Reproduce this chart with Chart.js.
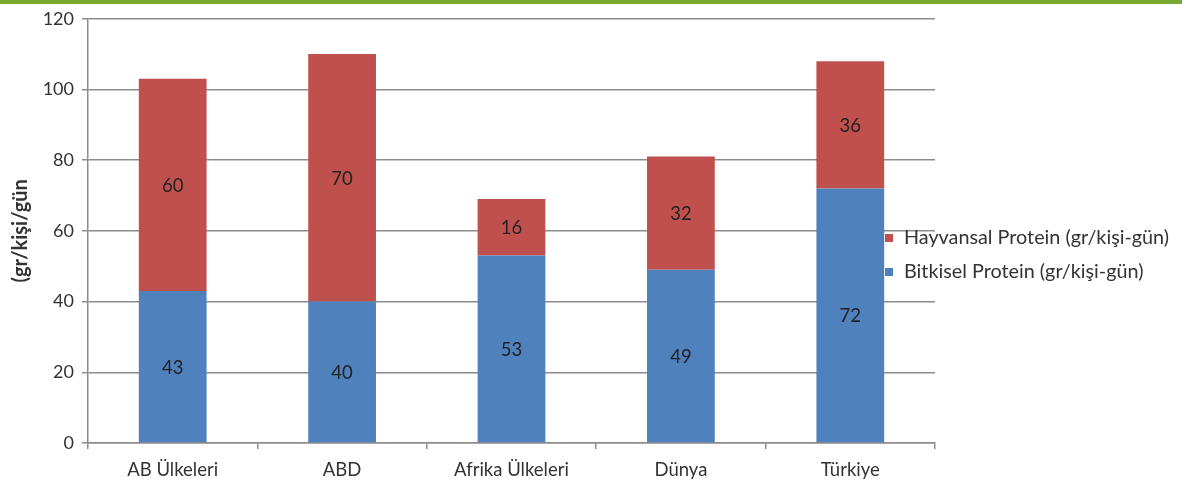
<html>
<head>
<meta charset="utf-8"/>
<title>Protein</title>
<script src="https://cdn.jsdelivr.net/npm/chart.js"></script>
<style>
  body { margin: 0; background: #fff; }
  #topbar { height: 4px; background: #76a832; }
  #wrap { position: relative; width: 1182px; height: 480px; }
</style>
</head>
<body>
<div id="topbar"></div>
<div id="wrap"><canvas id="proteinChart"></canvas></div>
<script>
// data
const categories = ['AB Ülkeleri', 'ABD', 'Afrika Ülkeleri', 'Dünya', 'Türkiye'];
const bitkisel = [43, 40, 53, 49, 72];
const hayvansal = [60, 70, 16, 32, 36];
const yTicks = [0, 20, 40, 60, 80, 100, 120];
const seriesNames = ['Bitkisel Protein (gr/kişi-gün)', 'Hayvansal Protein (gr/kişi-gün)'];
const yTitle = '(gr/kişi/gün';

const textColor = '#333333';
const fontFamily = 'Lato, "Open Sans", sans-serif';

// values written in the middle of each bar piece
const valueLabels = {
  id: 'valueLabels',
  afterDatasetsDraw(chart) {
    const ctx = chart.ctx;
    ctx.save();
    ctx.font = '18.5px ' + fontFamily;
    ctx.fillStyle = '#222';
    ctx.textAlign = 'center';
    ctx.textBaseline = 'middle';
    chart.data.datasets.forEach((ds, i) => {
      chart.getDatasetMeta(i).data.forEach((bar, j) => {
        const p = bar.getProps(['x', 'y', 'base'], true);
        ctx.fillText(ds.data[j], p.x, (p.y + p.base) / 2 + 1);
      });
    });
    ctx.restore();
  }
};

// legend sitting over the right of the plot, like the original
const sideLegend = {
  id: 'sideLegend',
  afterDraw(chart) {
    const ctx = chart.ctx;
    ctx.save();
    ctx.font = '19.8px ' + fontFamily;
    ctx.textBaseline = 'middle';
    const rows = chart.data.datasets.slice().reverse();
    rows.forEach((ds, k) => {
      const y = 234 + k * 34;
      ctx.fillStyle = ds.backgroundColor;
      ctx.fillRect(885, y - 4, 8, 8);
      ctx.fillStyle = textColor;
      ctx.fillText(ds.label, 904, y);
    });
    ctx.restore();
  }
};

new Chart(document.getElementById('proteinChart'), {
  type: 'bar',
  data: {
    labels: categories,
    datasets: [
      { label: seriesNames[0], data: bitkisel, backgroundColor: '#4f81bd' },
      { label: seriesNames[1], data: hayvansal, backgroundColor: '#c0504d' }
    ]
  },
  options: {
    responsive: true,
    maintainAspectRatio: false,
    animation: false,
    layout: { padding: { top: 14.7, right: 247, left: 0, bottom: 0 } },
    datasets: { bar: { categoryPercentage: 1, barPercentage: 0.4 } },
    plugins: { legend: { display: false }, tooltip: { enabled: false } },
    scales: {
      x: {
        stacked: true,
        afterFit(s) { s.height = 41; },
        grid: { offset: true, drawOnChartArea: false, drawTicks: true, tickLength: 6, color: '#8c8c8c', lineWidth: 1.5 },
        border: { color: '#8c8c8c', width: 1.5 },
        ticks: { color: textColor, font: { family: fontFamily, size: 18.5 }, padding: 10 }
      },
      y: {
        stacked: true,
        min: 0,
        max: 120,
        afterFit(s) { s.width = 88; s.paddingTop = 0; s.paddingBottom = 0; },
        afterBuildTicks(s) { s.ticks = yTicks.map(v => ({ value: v })); },
        grid: { color: '#8c8c8c', lineWidth: 1.5, tickLength: 6 },
        border: { color: '#8c8c8c', width: 1.5 },
        ticks: { color: textColor, font: { family: fontFamily, size: 18 }, padding: 8 },
        title: {
          display: true,
          text: yTitle,
          color: textColor,
          font: { family: fontFamily, size: 20, weight: 'bold' },
          padding: { top: 9, bottom: 0 }
        }
      }
    }
  },
  plugins: [valueLabels, sideLegend]
});
</script>
</body>
</html>
